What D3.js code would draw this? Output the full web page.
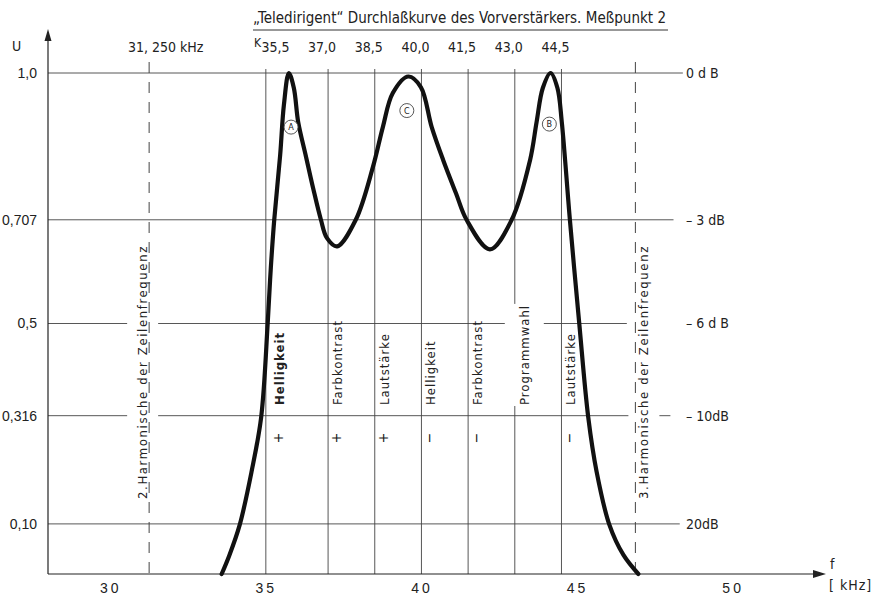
<!DOCTYPE html>
<html>
<head>
<meta charset="utf-8">
<script src="https://cdn.jsdelivr.net/npm/d3@7"></script>
<style>
  body { margin: 0; background: #fff; }
  svg {
    display: block;
    font-family: "Liberation Sans Narrow", "DejaVu Sans Condensed", "Roboto Condensed", sans-serif;
    fill: #222;
  }
</style>
</head>
<body>
<svg id="chart" width="877" height="596"></svg>
<script>
// Durchlaßkurve: frequency in kHz, relative voltage U
const freq = [33.58, 33.82, 34.16, 34.54, 34.85, 35.06, 35.16, 35.27, 35.46, 35.58, 35.74,
  35.90, 36.04, 36.28, 36.52, 36.77, 36.96, 37.29, 37.89, 38.44, 38.76, 39.08, 39.58,
  39.98, 40.33, 40.70, 41.11, 41.45, 42.20, 42.90, 43.49, 43.70, 43.90, 44.15, 44.37,
  44.51, 44.77, 45.07, 45.36, 45.63, 46.04, 46.49, 46.97];
const volt = [0, 0.036, 0.098, 0.204, 0.313, 0.501, 0.611, 0.707, 0.836, 0.936, 1.0,
  0.970, 0.902, 0.836, 0.770, 0.707, 0.671, 0.654, 0.707, 0.812, 0.892, 0.960, 0.993,
  0.972, 0.892, 0.826, 0.760, 0.707, 0.648, 0.707, 0.826, 0.902, 0.970, 1.0, 0.970,
  0.902, 0.707, 0.501, 0.313, 0.204, 0.098, 0.038, 0];

const uTicks = [1.0, 0.707, 0.5, 0.316, 0.1];
const uLabels = ["1,0", "0,707", "0,5", "0,316", "0,10"];
const dbLabels = ["0 d B", "– 3 dB", "– 6 d B", "– 10dB", "20dB"];

const fTicks = [30, 35, 40, 45, 50];
const fLabels = ["30", "35", "40", "45", "50"];

const markerFreqs = [35, 37, 38.5, 40, 41.5, 43, 44.5];
const topFreqs = [35.5, 37, 38.5, 40, 41.5, 43, 44.5];
const topLabels = ["35,5", "37,0", "38,5", "40,0", "41,5", "43,0", "44,5"];

const harmonicFreqs = [31.25, 46.875];
const harmonicLabels = ["2.Harmonische der Zeilenfrequenz", "3.Harmonische der Zeilenfrequenz"];

const controlLabels = ["Helligkeit", "Farbkontrast", "Lautstärke", "Helligkeit", "Farbkontrast", "Programmwahl", "Lautstärke"];
const controlSigns = ["+", "+", "+", "−", "−", "", "−"];

const peakNames = ["A", "C", "B"];
const peakF = [35.81, 39.53, 44.11];
const peakU = [0.892, 0.925, 0.898];

const config = {
  left: 48,
  right: 826,
  top: 73,
  bottom: 574,
  gridEnd: [48.4, 48.1, 46.6, 48.0, 48.3], // kHz where each horizontal line stops
  dbX: 686,
  lineTop: 69,
  dashTop: 62,
  font: 15
};

const svg = d3.select("#chart");

//Scales
const x = d3.scaleLinear().domain([28, 53]).range([config.left, config.right]);
const y = d3.scaleLinear().domain([0, 1]).range([config.bottom, config.top]);

const curveData = freq.map((f, i) => ({ f, u: volt[i] }));

//Title
svg.append("text")
  .attr("x", 253).attr("y", 23)
  .attr("textLength", 413).attr("lengthAdjust", "spacing")
  .style("font-size", "15px")
  .text("„Teledirigent“ Durchlaßkurve des Vorverstärkers. Meßpunkt 2");
svg.append("line")
  .attr("x1", 253).attr("x2", 668).attr("y1", 30).attr("y2", 30)
  .attr("stroke", "#333").attr("stroke-width", 1);

//Horizontal lines
svg.append("g").selectAll("line")
  .data(uTicks)
  .join("line")
  .attr("x1", config.left)
  .attr("x2", (d, i) => x(config.gridEnd[i]))
  .attr("y1", d => y(d)).attr("y2", d => y(d))
  .attr("stroke", "#444").attr("stroke-width", 0.9);

//Vertical marker lines
svg.append("g").selectAll("line")
  .data(markerFreqs)
  .join("line")
  .attr("x1", d => x(d)).attr("x2", d => x(d))
  .attr("y1", config.lineTop).attr("y2", config.bottom)
  .attr("stroke", "#444").attr("stroke-width", 0.9);

//Rotated label helper, with optional white box behind it
const rotLabel = (g, px, py, txt, opts = {}) => {
  const grp = g.append("g").attr("transform", `translate(${px},${py}) rotate(-90)`);
  const bg = grp.append("rect").attr("fill", "#fff");
  const t = grp.append("text")
    .attr("text-anchor", opts.anchor || "start")
    .style("font-size", (opts.size || 13) + "px")
    .style("letter-spacing", (opts.spacing || 0) + "px")
    .style("font-weight", opts.bold ? "bold" : "normal")
    .text(txt);
  if (opts.pad) {
    const b = t.node().getBBox();
    bg.attr("x", b.x - 1).attr("width", b.width + 2)
      .attr("y", b.y - opts.pad).attr("height", b.height + 2 * opts.pad);
  } else bg.remove();
  return grp;
};

//Control labels between the marker lines
const ctrl = svg.append("g");
controlLabels.forEach((lab, i) => {
  const cx = x(markerFreqs[i]) + (i === 0 ? 18 : 14);
  rotLabel(ctrl, cx, 405, lab, {
    size: 13,
    spacing: 1,
    bold: i === 0,
    pad: lab === "Programmwahl" ? 12 : 0
  });
  const sign = controlSigns[i];
  if (sign) {
    rotLabel(ctrl, cx - 1, 438, sign, { size: 14, anchor: "middle" });
  }
});

//Harmonics: white boxes + text, dashed lines drawn in between
const harm = svg.append("g");
const harmX = i => x(harmonicFreqs[i]) + (i === 0 ? -2 : 13);
harmonicLabels.forEach((lab, i) =>
  rotLabel(harm, harmX(i), 372, lab, { size: 13, spacing: 1.6, anchor: "middle", pad: 8 })
    .select("text").remove()
);

svg.append("g").selectAll("line")
  .data(harmonicFreqs)
  .join("line")
  .attr("x1", d => x(d)).attr("x2", d => x(d))
  .attr("y1", config.dashTop).attr("y2", config.bottom)
  .attr("stroke", "#444").attr("stroke-width", 1)
  .attr("stroke-dasharray", "11,9");

harmonicLabels.forEach((lab, i) =>
  rotLabel(harm, harmX(i), 372, lab, { size: 13, spacing: 1.6, anchor: "middle" })
);

//Axes
const yAxis = d3.axisLeft(y)
  .tickValues(uTicks)
  .tickSize(0)
  .tickPadding(11)
  .tickFormat((d, i) => uLabels[i]);
svg.append("g")
  .attr("transform", `translate(${config.left},0)`)
  .call(yAxis)
  .call(g => g.select(".domain").remove())
  .selectAll("text")
  .attr("fill", "#222")
  .style("font-size", config.font - 1 + "px")
  .style("font-family", null);

const xAxis = d3.axisBottom(x)
  .tickValues(fTicks)
  .tickSize(0)
  .tickPadding(9)
  .tickFormat((d, i) => fLabels[i]);
svg.append("g")
  .attr("transform", `translate(0,${config.bottom})`)
  .call(xAxis)
  .call(g => g.select(".domain").remove())
  .selectAll("text")
  .attr("fill", "#222")
  .style("font-size", config.font - 1 + "px")
  .style("letter-spacing", "3px")
  .style("font-family", null);

//Axis lines with arrows
svg.append("line")
  .attr("x1", config.left).attr("x2", config.left)
  .attr("y1", config.bottom).attr("y2", 34)
  .attr("stroke", "#222").attr("stroke-width", 1.2);
svg.append("path")
  .attr("d", `M${config.left},29 L${config.left - 3.5},41 L${config.left + 3.5},41 Z`)
  .attr("fill", "#222");
svg.append("line")
  .attr("x1", config.left).attr("x2", config.right - 4)
  .attr("y1", config.bottom).attr("y2", config.bottom)
  .attr("stroke", "#222").attr("stroke-width", 1.2);
svg.append("path")
  .attr("d", `M${config.right},${config.bottom} L${config.right - 13},${config.bottom - 4} L${config.right - 13},${config.bottom + 4} Z`)
  .attr("fill", "#222");

svg.append("text").attr("x", 12).attr("y", 51).style("font-size", "14px").text("U");
svg.append("text").attr("x", 830).attr("y", 569).style("font-size", "14px").text("f");
svg.append("text").attr("x", 829).attr("y", 590).style("font-size", "14px")
  .style("letter-spacing", "1px").text("[ kHz]");

//dB labels on the right
svg.append("g").selectAll("text")
  .data(uTicks)
  .join("text")
  .attr("x", config.dbX)
  .attr("y", d => y(d))
  .attr("dy", "0.35em")
  .style("font-size", "14px")
  .text((d, i) => dbLabels[i]);

//Top frequency labels
svg.append("g").selectAll("text")
  .data(topFreqs)
  .join("text")
  .attr("x", d => x(d) - 6)
  .attr("y", 52)
  .attr("text-anchor", "middle")
  .style("font-size", "14px")
  .text((d, i) => topLabels[i]);
svg.append("text").attr("x", 254).attr("y", 47).style("font-size", "12px").text("K");
svg.append("text").attr("x", 128).attr("y", 52).style("font-size", "14px").text("31, 250 kHz");

//Curve
const line = d3.line()
  .x(d => x(d.f))
  .y(d => y(d.u))
  .curve(d3.curveCatmullRom.alpha(0.5));
svg.append("path")
  .datum(curveData)
  .attr("d", line)
  .attr("fill", "none")
  .attr("stroke", "#111")
  .attr("stroke-width", 4.2)
  .attr("stroke-linecap", "round")
  .attr("stroke-linejoin", "round");

//Peak markers
const peaks = svg.append("g").selectAll("g")
  .data(peakNames)
  .join("g")
  .attr("transform", (d, i) => `translate(${x(peakF[i])},${y(peakU[i])})`);
peaks.append("circle").attr("r", 7).attr("fill", "#fff").attr("stroke", "#444").attr("stroke-width", 0.9);
peaks.append("text")
  .attr("text-anchor", "middle").attr("dy", "0.35em")
  .style("font-size", "9px")
  .text(d => d);
</script>
</body>
</html>
